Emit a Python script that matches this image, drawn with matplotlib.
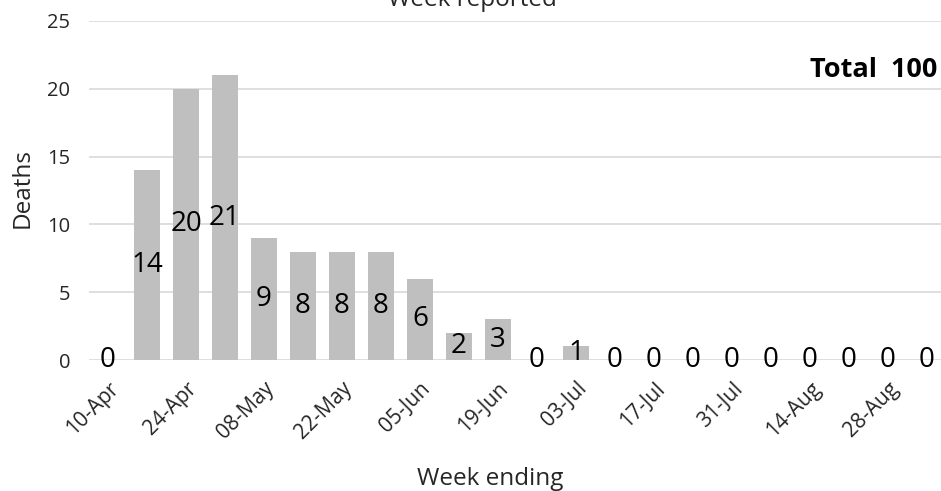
import matplotlib
matplotlib.use("Agg")
import matplotlib.pyplot as plt
import numpy as np

plt.rcParams["font.family"] = ["Open Sans", "DejaVu Sans"]

# weekly deaths, week ending 10-Apr .. 04-Sep
weeks = ["10-Apr", "17-Apr", "24-Apr", "01-May", "08-May", "15-May", "22-May",
         "29-May", "05-Jun", "12-Jun", "19-Jun", "26-Jun", "03-Jul", "10-Jul",
         "17-Jul", "24-Jul", "31-Jul", "07-Aug", "14-Aug", "21-Aug", "28-Aug",
         "04-Sep"]
deaths = [0, 14, 20, 21, 9, 8, 8, 8, 6, 2, 3, 0, 1, 0, 0, 0, 0, 0, 0, 0, 0, 0]
y_ticks = [0, 5, 10, 15, 20, 25]

W, H = 941, 491
fig = plt.figure(figsize=(W / 100, H / 100), dpi=100)
ax = fig.add_axes([88.5 / W, (H - 360) / H, 858 / W, 339 / H])

x = np.arange(len(weeks))
bars = ax.bar(x, deaths, width=0.65, color="#BFBFBF", zorder=2)

# data labels in the middle of each bar
for xi, v in zip(x, deaths):
    ax.text(xi, v / 2, str(v), ha="center", va="center", fontsize=20,
            color="#000000", zorder=3)

ax.set_xlim(-0.5, len(weeks) - 0.5)
ax.set_ylim(0, 25)
ax.set_yticks(y_ticks)
ax.yaxis.grid(True, color="#D9D9D9", linewidth=1.2, zorder=0)
ax.set_axisbelow(True)
for s in ax.spines.values():
    s.set_visible(False)

ax.tick_params(axis="y", length=0, pad=13, labelsize=14.5, labelcolor="#262626")
ax.set_xticks(x[::2])
ax.set_xticklabels(weeks[::2], rotation=45, ha="right", va="top",
                   rotation_mode="anchor", fontsize=15, color="#262626")
ax.tick_params(axis="x", length=0, pad=13)

fig.text(23 / W, 1 - 188 / H, "Deaths", rotation=90, ha="center", va="center",
         fontsize=17.5, color="#262626")
fig.text(490 / W, (H - 485) / H, "Week ending", ha="center", va="baseline",
         fontsize=17.5, color="#262626")
fig.text(472 / W, 1 - 6 / H, "Week reported", ha="center", va="baseline",
         fontsize=17.5, color="#262626")
fig.text(937 / W, 1 - 70 / H, "Total  100", ha="right", va="center",
         fontsize=19.5, fontweight="bold", color="#000000")

fig.savefig("out.png", dpi=100, facecolor="white")
